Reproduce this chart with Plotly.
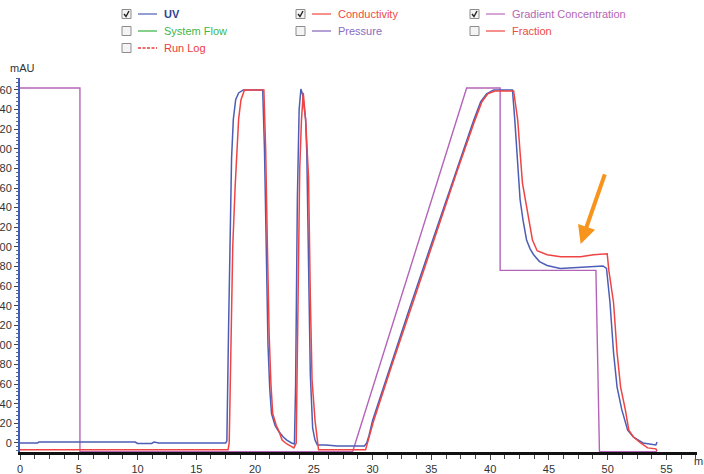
import plotly.graph_objects as go

# ---------------- data ----------------
uv_t = [0, 1.5, 1.6, 9.8, 10.0, 11.2, 11.4, 11.8, 17.5, 17.6, 17.75, 17.9, 18.0, 18.15, 18.35, 18.6, 19.0,
        20.65, 20.8, 20.95, 21.1, 21.25, 21.4, 21.7, 22.0, 22.4, 22.7, 23.1, 23.35, 23.45, 23.6, 23.75, 23.9,
        24.05, 24.3, 24.4, 24.55, 24.7, 24.9, 25.1, 25.3, 26.0, 27.0, 29.3, 29.5, 29.7, 30.0, 31.5, 33.0,
        35.0, 37.0, 38.6, 39.2, 39.7, 40.3, 41.9, 42.1, 42.3, 42.5, 42.55, 42.8, 43.1, 43.4, 43.7, 44.2,
        44.85, 45.96, 47.0, 48.3, 49.6, 49.9, 50.2, 50.5, 50.8, 51.2, 51.7, 52.2, 53.0, 54.1, 54.2]
uv_v = [0, 0, 1, 1, -0.5, -0.5, 1, 0, 0, 2, 120, 250, 290, 330, 350, 357, 360,
        360, 300, 200, 100, 55, 30, 18, 12, 6, 3, 0, -1, 60, 250, 340, 361,
        355, 330, 297, 200, 70, 15, 3, -2, -2, -3, -3, 0, 8, 23, 78, 132,
        203, 274, 329, 348, 356, 360, 360, 329, 296, 261, 248, 227, 207, 198, 192, 185,
        181, 178, 178.5, 179.5, 180.5, 178, 143, 92, 57, 34, 13, 6, 0, -2, 1]

cond_t = [0, 17.7, 17.8, 17.9, 18.1, 18.3, 18.45, 18.6, 18.8, 19.1, 20.75, 20.9, 21.05, 21.2, 21.35, 21.5,
          21.8, 22.0, 22.3, 22.7, 23.0, 23.3, 23.5, 23.65, 23.8, 23.95, 24.1, 24.3, 24.4, 24.55, 24.7, 24.85,
          25.1, 25.3, 25.4, 29.4, 29.55, 29.8, 30.1, 31.6, 33.1, 35.1, 37.1, 38.7, 39.3, 39.8, 40.4, 42.0,
          42.35, 42.55, 42.75, 43.0, 43.3, 43.6, 44.0, 44.85, 46.0, 47.7, 48.8, 49.96, 50.1, 50.3, 50.5,
          50.8, 51.1, 51.5, 51.8, 52.2, 52.8, 53.4, 54.1, 54.2]
cond_v = [-7, -7, 0, 80, 200, 260, 290, 330, 350, 360, 360, 300, 200, 110, 60, 30,
          18, 13, 3, -1, -3, -5, 0, 150, 280, 330, 357, 330, 302, 271, 150, 64,
          23, 3, -7, -7, 0, 10, 23, 78, 132, 203, 274, 329, 348, 356, 359, 359,
          329, 296, 265, 248, 227, 207, 196, 192, 190, 190, 192, 193, 176, 160, 143,
          92, 57, 34, 13, 6, 0, -5, -6, -8]

grad_t = [0, 5.1, 5.1, 28.3, 38.0, 40.85, 40.85, 49.0, 49.3, 54.2]
grad_v = [362, 362, -9, -9, 362, 362, 176, 176, -9, -9]

arrow_tip = (47.7, 203)
arrow_tail = (49.8, 275.5)

y_ticks = list(range(0, 361, 20))
# the reference is cropped at its left edge: only the last two digits of each label are visible
y_ticktext = [str(v)[-2:] for v in y_ticks]
x_ticks = list(range(0, 56, 5))

legend_rows = [
    [("UV", True, "#2d3f94", "#6f7fc4", "solid", True),
     ("Conductivity", True, "#ee4a44", "#f26b66", "solid", False),
     ("Gradient Concentration", True, "#b565b5", "#c98ac9", "solid", False)],
    [("System Flow", False, "#3fb54a", "#5cc065", "solid", False),
     ("Pressure", False, "#8a6cc0", "#9a82c8", "solid", False),
     ("Fraction", False, "#ee4a44", "#f26b66", "solid", False)],
    [("Run Log", False, "#ee3b3b", "#ee3b3b", "3px,1.5px", False)],
]

# ---------------- layout geometry ----------------
W, H = 704, 474
L, R, T, B = 20, 7, 78, 22
PW, PH = W - L - R, H - T - B


def px(x):
    return (x - L) / PW


def py(y):
    return (H - B - y) / PH


fig = go.Figure()
fig.add_trace(go.Scatter(x=grad_t, y=grad_v, mode="lines", name="Gradient Concentration",
                         line=dict(color="#b464b8", width=1.4)))
fig.add_trace(go.Scatter(x=uv_t, y=uv_v, mode="lines", name="UV",
                         line=dict(color="#4c5eb6", width=1.5)))
fig.add_trace(go.Scatter(x=cond_t, y=cond_v, mode="lines", name="Conductivity",
                         line=dict(color="#f04444", width=1.5)))

shapes = []
annotations = []

col_x = [122, 296, 470]
row_y = [14, 31, 48]
for r, row in enumerate(legend_rows):
    for c, (name, checked, tcol, lcol, dash, bold) in enumerate(row):
        cx = col_x[c]
        cy = row_y[r]
        shapes.append(dict(type="rect", xref="paper", yref="paper",
                           x0=px(cx), x1=px(cx + 9), y0=py(cy + 4.5), y1=py(cy - 4.5),
                           line=dict(color="#8c8c8c", width=1), fillcolor="#f4f4f4"))
        if checked:
            shapes.append(dict(type="path", xref="paper", yref="paper",
                               path=f"M {px(cx+2)},{py(cy)} L {px(cx+4)},{py(cy+2.5)} L {px(cx+7)},{py(cy-3)}",
                               line=dict(color="#222222", width=1.4)))
        shapes.append(dict(type="line", xref="paper", yref="paper",
                           x0=px(cx + 16), x1=px(cx + 35), y0=py(cy), y1=py(cy),
                           line=dict(color=lcol, width=1.5, dash=dash)))
        txt = f"<b>{name}</b>" if bold else name
        annotations.append(dict(xref="paper", yref="paper", x=px(cx + 40), y=py(cy),
                                text=txt, showarrow=False, xanchor="left", yanchor="middle",
                                font=dict(family="Liberation Sans, Arial", size=11, color=tcol)))

annotations.append(dict(xref="paper", yref="paper", x=px(8), y=py(68), text="mAU",
                        showarrow=False, xanchor="left", yanchor="middle",
                        font=dict(family="Liberation Sans, Arial", size=11, color="#333333")))
annotations.append(dict(xref="paper", yref="paper", x=px(692), y=py(461), text="m",
                        showarrow=False, xanchor="left", yanchor="middle",
                        font=dict(family="Liberation Sans, Arial", size=11, color="#333333")))
annotations.append(dict(x=arrow_tip[0], y=arrow_tip[1], ax=arrow_tail[0], ay=arrow_tail[1],
                        xref="x", yref="y", axref="x", ayref="y", text="", showarrow=True,
                        arrowhead=2, arrowsize=0.9, arrowwidth=4, arrowcolor="#f7941d"))

fig.update_layout(
    width=W, height=H,
    margin=dict(l=L, r=R, t=T, b=B, autoexpand=False),
    paper_bgcolor="white", plot_bgcolor="white",
    showlegend=False,
    shapes=shapes, annotations=annotations,
    font=dict(family="Liberation Sans, Arial", size=11, color="#333333"),
)
fig.update_xaxes(range=[0, 57.6], tickvals=x_ticks, showgrid=False, zeroline=False,
                 showline=True, linecolor="#111111", linewidth=2.5,
                 ticks="outside", ticklen=5, tickcolor="#444444", tickwidth=1,
                 minor=dict(dtick=1.25, tick0=0, ticks="outside", ticklen=4, tickcolor="#444444"),
                 automargin=False, tickfont=dict(size=11, color="#333333"))
fig.update_yaxes(range=[-9.2, 372.2], tickvals=y_ticks, ticktext=y_ticktext, showgrid=False, zeroline=False,
                 showline=True, linecolor="#3f5cc4", linewidth=2,
                 ticks="outside", ticklen=4, tickcolor="#444444", tickwidth=1,
                 minor=dict(dtick=4, tick0=0, ticks="outside", ticklen=2, tickcolor="#666666"),
                 automargin=False, tickfont=dict(size=11, color="#333333"))

fig.write_html("out.html", config={"displayModeBar": False},
               post_script="document.body.style.margin='0';")
